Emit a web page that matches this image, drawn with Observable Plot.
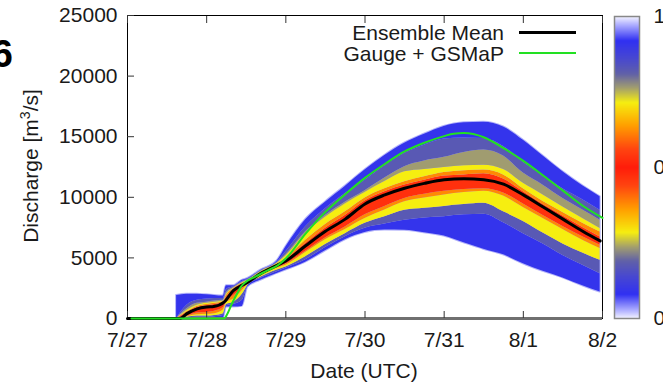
<!DOCTYPE html>
<html><head><meta charset="utf-8">
<script src="https://cdn.jsdelivr.net/npm/d3@7"></script>
<script src="https://cdn.jsdelivr.net/npm/@observablehq/plot@0.6"></script>
<style>
html,body{margin:0;padding:0;background:#fff;overflow:hidden;}
#wrap{position:relative;width:663px;height:383px;font-family:"Liberation Sans",Arial,sans-serif;color:#1a1a1a;}
.abs{position:absolute;white-space:nowrap;}
#wrap svg{position:absolute;top:0;}
</style></head><body><div id="wrap"></div>
<script>
// ---- axis ticks ----
const tickDays = [0, 1, 2, 3, 4, 5, 6];
const tickLabels = ["7/27", "7/28", "7/29", "7/30", "7/31", "8/1", "8/2"];
const yTicks = [0, 5000, 10000, 15000, 20000, 25000];

// ---- ensemble distribution bands (days since 7/27 00:00 UTC, discharge m3/s) ----
const bandDays = [0.62, 0.75, 0.88, 1.0, 1.1, 1.21, 1.25, 1.34, 1.45, 1.52, 1.68, 1.89, 2.0, 2.25, 2.5, 2.75, 3.0, 3.25, 3.5, 3.75, 4.0, 4.25, 4.5, 4.75, 5.0, 5.25, 5.5, 5.75, 5.97];
const qMin = [0, 0, 0, 0, 0, 0, 950, 950, 1000, 2600, 3150, 3720, 4000, 4650, 5580, 6500, 7100, 7300, 7280, 7080, 6800, 6250, 5720, 5250, 4520, 3900, 3350, 2700, 2180];
const q1   = [0, 50, 100, 100, 150, 250, 1050, 1150, 1500, 2700, 3300, 3850, 4150, 4850, 5850, 6750, 7450, 7800, 8110, 8300, 8400, 8550, 8600, 7900, 7000, 6150, 5200, 4400, 3700];
const q2   = [0, 100, 200, 200, 250, 400, 1150, 1350, 2000, 2750, 3400, 4000, 4250, 5100, 6100, 7000, 7850, 8400, 8940, 9100, 9250, 9400, 9500, 8800, 8000, 7050, 6150, 5400, 4800];
const q3   = [0, 150, 300, 350, 400, 700, 1300, 1600, 2300, 2850, 3500, 4150, 4400, 5450, 6500, 7350, 8250, 8950, 9630, 9950, 10200, 10400, 10500, 10100, 9150, 8250, 7350, 6450, 5770];
const q4   = [0, 200, 450, 500, 600, 900, 1450, 1900, 2500, 2900, 3550, 4200, 4500, 5550, 6650, 7550, 8550, 9250, 9910, 10250, 10500, 10650, 10700, 10350, 9450, 8500, 7600, 6750, 6040];
const qMid = [0, 350, 800, 950, 1050, 1300, 1600, 2300, 2750, 3000, 3700, 4390, 4750, 6000, 7200, 8200, 9450, 10200, 10750, 11150, 11450, 11530, 11450, 11080, 10200, 9200, 8200, 7200, 6400];
const q5   = [0, 450, 900, 1050, 1150, 1350, 1750, 2400, 2850, 3050, 3750, 4450, 4850, 6180, 7450, 8500, 9700, 10450, 11010, 11400, 11750, 11850, 11950, 11500, 10450, 9400, 8450, 7500, 6730];
const q6   = [0, 550, 1000, 1150, 1250, 1400, 1900, 2450, 2900, 3100, 3800, 4500, 4950, 6460, 7750, 8800, 9950, 10700, 11280, 11700, 12050, 12200, 12250, 11850, 10700, 9650, 8750, 7850, 7140];
const q7   = [0, 650, 1100, 1250, 1350, 1450, 2000, 2500, 2950, 3150, 3850, 4550, 5150, 7010, 8350, 9450, 10400, 11300, 12110, 12300, 12450, 12600, 12650, 12300, 11150, 10200, 9200, 8250, 7420];
const q8   = [0, 800, 1250, 1350, 1450, 1500, 2150, 2550, 3000, 3200, 3900, 4600, 5250, 7150, 8500, 9600, 10550, 11600, 12530, 13000, 13300, 13700, 13900, 13400, 12000, 11000, 9900, 8950, 8110];
const q9   = [0, 1100, 1500, 1600, 1650, 1650, 2400, 2650, 3050, 3250, 3950, 4650, 5500, 7560, 9050, 10300, 11400, 12600, 13630, 14300, 14800, 14900, 14850, 14200, 12900, 11800, 10700, 9800, 8940];
const qMax = [1900, 2000, 2000, 1950, 1900, 1850, 2700, 2700, 3150, 3300, 3970, 4750, 5900, 8150, 9600, 10900, 12250, 13450, 14460, 15200, 15850, 16150, 16200, 15800, 14700, 13400, 12100, 10950, 10040];

// probability level (colour) of each band, bottom to top
const bandEdges = [["min","q1"],["q1","q2"],["q2","q3"],["q3","q4"],["q4","mid"],["mid","q5"],["q5","q6"],["q6","q7"],["q7","q8"],["q8","q9"],["q9","max"]];
const bandLevel = [0.09, 0.175, 0.285, 0.38, 0.47, 0.53, 0.62, 0.715, 0.765, 0.825, 0.91];

// colour bar stops (cumulative probability)
const stopP = [0, 0.03, 0.08, 0.14, 0.19, 0.235, 0.285, 0.36, 0.44, 0.5, 0.56, 0.64, 0.715, 0.765, 0.81, 0.86, 0.92, 0.97, 1];
const stopColors = ["#f4f4ff","#a8a8ff","#3030f2","#4848d0","#6060a8","#a09c70","#f6ee10","#ffa000","#ff4410","#ff1c0a","#ff4410","#ffa000","#f6ee10","#a09c70","#6060a8","#4848d0","#3030f2","#a8a8ff","#f4f4ff"];

// ---- ensemble mean ----
const meanDays = [0, 0.66, 0.75, 0.88, 1.0, 1.09, 1.22, 1.34, 1.45, 1.52, 1.68, 1.89, 2.0, 2.25, 2.5, 2.75, 3.0, 3.25, 3.5, 3.75, 4.0, 4.25, 4.5, 4.75, 5.0, 5.25, 5.5, 5.75, 5.97];
const meanQ = [0, 0, 400, 800, 950, 990, 1350, 2320, 2750, 3000, 3700, 4390, 4750, 6000, 7200, 8200, 9450, 10200, 10750, 11150, 11450, 11530, 11450, 11080, 10200, 9200, 8200, 7200, 6400];

// ---- Gauge + GSMaP ----
const gaugeDays = [0.05, 1.22, 1.27, 1.32, 1.38, 1.43, 1.49, 1.6, 1.77, 1.9, 2.0, 2.25, 2.5, 2.75, 3.0, 3.25, 3.5, 3.75, 4.0, 4.12, 4.25, 4.5, 4.75, 5.0, 5.25, 5.5, 5.75, 6.0];
const gaugeQ = [0, 0, 500, 1240, 2000, 2590, 3000, 3400, 3970, 4400, 4950, 7000, 8800, 10250, 11600, 12750, 13780, 14500, 15050, 15250, 15300, 14950, 14050, 13000, 11800, 10550, 9300, 8300];

// ---- build tables ----
const t0 = Date.UTC(2017, 6, 27);
const toDate = d => new Date(t0 + d * 864e5);
const rows = bandDays.map((d, i) => ({date: toDate(d), min: qMin[i], q1: q1[i], q2: q2[i], q3: q3[i], q4: q4[i], mid: qMid[i], q5: q5[i], q6: q6[i], q7: q7[i], q8: q8[i], q9: q9[i], max: qMax[i]}));
const meanRows = meanDays.map((d, i) => ({date: toDate(d), v: meanQ[i]}));
const gaugeRows = gaugeDays.map((d, i) => ({date: toDate(d), v: gaugeQ[i]}));
const curve = "monotone-x";
const colorScale = {type: "linear", domain: stopP, range: stopColors, interpolate: "rgb"};

const bandMarks = bandEdges.map(([lo, hi], k) =>
  Plot.areaY(rows, {x: "date", y1: lo, y2: hi, fill: () => bandLevel[k], curve}));

const main = Plot.plot({
  width: 663, height: 383,
  marginLeft: 127, marginRight: 61, marginTop: 15, marginBottom: 65,
  style: {fontFamily: "'Liberation Sans', Arial, sans-serif", fontSize: "21px", color: "#1a1a1a", background: "transparent"},
  x: {type: "utc", domain: [toDate(0), toDate(6)]},
  y: {domain: [0, 25000]},
  color: colorScale,
  marks: [
    Plot.areaY(rows, {x: "date", y1: "min", y2: "max", fill: "#b4b4fb", stroke: "#b4b4fb", strokeWidth: 2, curve}),
    ...bandMarks,
    Plot.frame({stroke: "#000", strokeWidth: 1}),
    Plot.ruleY([0], {stroke: "#707070", strokeWidth: 3}),
    Plot.axisX({ticks: tickDays.map(toDate), tickSize: -7, tickPadding: 21, tickFormat: (d, i) => tickLabels[i], fontSize: 21, label: null, stroke: "#333"}),
    Plot.axisX({anchor: "top", ticks: tickDays.map(toDate), tickSize: -7, tickFormat: () => "", label: null, stroke: "#333"}),
    Plot.axisY({ticks: yTicks, tickSize: -7, tickPadding: 17, tickFormat: d => String(d), fontSize: 21, label: null, stroke: "#333"}),
    Plot.line(meanRows, {x: "date", y: "v", stroke: "#000", strokeWidth: 3, curve}),
    Plot.line(gaugeRows, {x: "date", y: "v", stroke: "#22e022", strokeWidth: 2, curve})
  ]
});
const wrap = document.getElementById("wrap");
main.style.left = "0px";
wrap.appendChild(main);

// ---- colour bar ----
const cbMarks = [];
if (Plot.raster) {
  cbMarks.push(Plot.raster({x1: 0, x2: 1, y1: 0, y2: 1, width: 2, height: 302, fill: (x, y) => y, imageRendering: "auto"}));
} else {
  const steps = d3.range(0, 1, 1 / 300);
  cbMarks.push(Plot.rectY(steps, {x1: 0, x2: 1, y1: d => d, y2: d => d + 1 / 300 + 0.001, fill: d => d}));
}
cbMarks.push(Plot.frame({stroke: "#888", strokeWidth: 1.5}));
cbMarks.push(Plot.axisY({anchor: "right", ticks: [0, 0.5, 1], tickSize: 0, tickPadding: 14, tickFormat: d => String(d), fontSize: 21, label: null}));
const cb = Plot.plot({
  width: 58, height: 383,
  marginLeft: 9, marginRight: 24, marginTop: 16, marginBottom: 65,
  style: {fontFamily: "'Liberation Sans', Arial, sans-serif", fontSize: "21px", color: "#1a1a1a", background: "transparent", overflow: "hidden"},
  x: {domain: [0, 1], axis: null},
  y: {domain: [0, 1], axis: null},
  color: colorScale,
  marks: cbMarks
});
cb.style.left = "605px";
wrap.appendChild(cb);

// ---- texts ----
function addText(html, css) {
  const el = document.createElement("div");
  el.className = "abs";
  el.innerHTML = html;
  Object.assign(el.style, css);
  wrap.appendChild(el);
  return el;
}
addText("6", {right: "650px", top: "35px", fontSize: "38px", lineHeight: "38px", fontWeight: "bold", color: "#000"});
addText("Discharge [m<sup style='font-size:14px;vertical-align:8px;line-height:0'>3</sup>/s]", {left: "30px", top: "166px", fontSize: "21px", lineHeight: "21px", transform: "translate(-50%,-50%) rotate(-90deg)"});
addText("Date (UTC)", {left: "364px", top: "360px", fontSize: "21px", lineHeight: "21px", transform: "translateX(-50%)"});
// legend
const leg = [["Ensemble Mean", "#000", 3, 22], ["Gauge + GSMaP", "#22e022", 2, 43]];
for (const [label, color, w, top] of leg) {
  addText(label, {right: (663 - 504) + "px", top: top + "px", fontSize: "21px", lineHeight: "21px"});
  addText("", {left: "519px", top: (top + 10 - w / 2) + "px", width: "57px", height: w + "px", background: color});
}
</script></body></html>
